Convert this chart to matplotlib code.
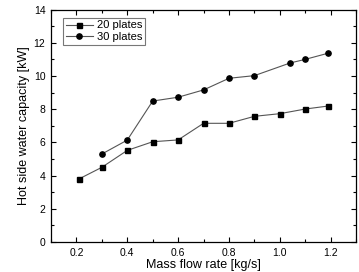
import numpy as np
import matplotlib
matplotlib.use("Agg")
import matplotlib.pyplot as plt
from matplotlib.ticker import MultipleLocator

plt.rcParams['font.family'] = ['Liberation Sans', 'DejaVu Sans']

# Data
x20 = [0.21, 0.30, 0.40, 0.50, 0.60, 0.70, 0.80, 0.90, 1.00, 1.10, 1.19]
y20 = [3.80, 4.50, 5.52, 6.04, 6.15, 7.15, 7.15, 7.57, 7.73, 8.01, 8.19]
x30 = [0.30, 0.40, 0.50, 0.60, 0.70, 0.80, 0.90, 1.04, 1.10, 1.19]
y30 = [5.30, 6.14, 8.49, 8.72, 9.16, 9.86, 10.02, 10.78, 11.00, 11.37]

fig = plt.figure(figsize=(3.59, 2.72), dpi=100)
ax = fig.add_axes([0.142, 0.110, 0.850, 0.855])

ax.plot(x20, y20, color='#555555', lw=0.8, marker='s', ms=3.6,
        mfc='black', mec='black', label='20 plates')
ax.plot(x30, y30, color='#555555', lw=0.8, marker='o', ms=3.8,
        mfc='black', mec='black', label='30 plates')

ax.set_xlim(0.1, 1.3)
ax.set_ylim(0, 14)
ax.xaxis.set_major_locator(MultipleLocator(0.2))
ax.xaxis.set_minor_locator(MultipleLocator(0.1))
ax.yaxis.set_major_locator(MultipleLocator(2))
ax.yaxis.set_minor_locator(MultipleLocator(1))
ax.tick_params(which='both', direction='in', top=True, right=True,
               labelsize=7.5, width=0.8, pad=4)
ax.tick_params(which='major', length=3.5)
ax.tick_params(which='minor', length=2.5)
ax.xaxis.set_major_formatter(plt.FuncFormatter(lambda v, p: f"{v:.1f}"))

for s in ax.spines.values():
    s.set_linewidth(0.9)

ax.set_xlabel('Mass flow rate [kg/s]', fontsize=9, labelpad=1)
ax.set_ylabel('Hot side water capacity [kW]', fontsize=9, labelpad=3)

leg = ax.legend(loc='upper left', fontsize=8, frameon=True, fancybox=False,
                edgecolor='#555555', handlelength=2.4, borderpad=0.25,
                labelspacing=0.15, handletextpad=0.4, borderaxespad=0,
                bbox_to_anchor=(0.04, 0.965))
leg.get_frame().set_linewidth(0.8)

fig.savefig('out.png', dpi=100)
